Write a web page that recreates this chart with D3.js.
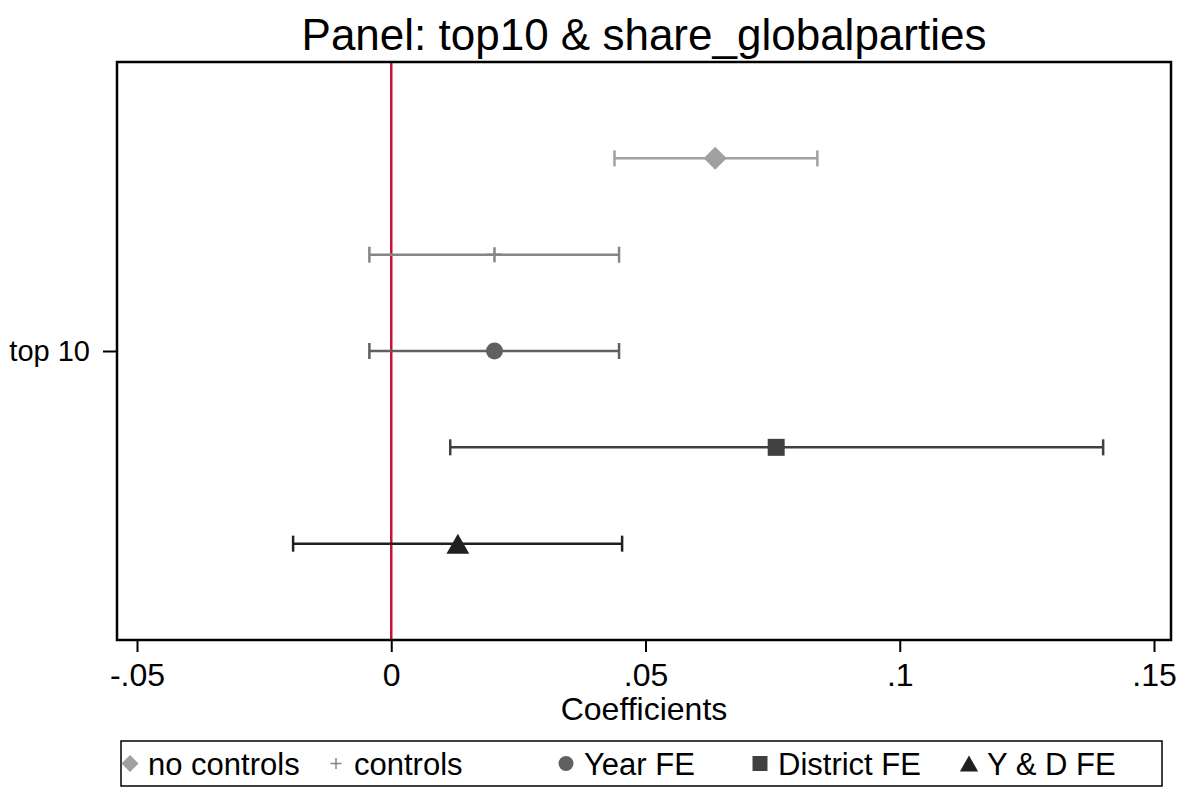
<!DOCTYPE html>
<html>
<head>
<meta charset="utf-8">
<script src="https://cdn.jsdelivr.net/npm/d3@7"></script>
<style>
  body { margin: 0; background: #fff; }
  text { font-family: "Liberation Sans", Arial, Helvetica, sans-serif; fill: #000; }
</style>
</head>
<body>
<div id="chart"></div>
<script>
var svgWidth = 1182;
var svgHeight = 799;

// data
var seriesNames = ["no controls", "controls", "Year FE", "District FE", "Y & D FE"];
var seriesOffset = [-0.4, -0.2, 0, 0.2, 0.4];
var coefs = [0.0637, 0.0203, 0.0203, 0.0757, 0.0131];
var ciLow = [0.0439, -0.0043, -0.0043, 0.0116, -0.0193];
var ciHigh = [0.0838, 0.0448, 0.0448, 0.1400, 0.0454];
var seriesColors = ["#a0a0a0", "#858585", "#606060", "#404040", "#202020"];
var seriesSymbols = ["diamond", "plus", "circle", "square", "triangle"];
var xTicks = [-0.05, 0, 0.05, 0.1, 0.15];
var xTickLabels = ["-.05", "0", ".05", ".1", ".15"];
var yCategory = "top 10";

var frame = { left: 117, right: 1171, top: 62, bottom: 640 };

var svg = d3.select("#chart")
  .append("svg")
  .attr("width", svgWidth)
  .attr("height", svgHeight);

var x = d3.scaleLinear()
  .domain([-0.05, 0.15])
  .range([137, 1154]);

var y = d3.scaleLinear()
  .domain([-0.6, 0.6])
  .range([frame.top, frame.bottom]);

var data = seriesNames.map(function(name, i) {
  return {
    name: name,
    offset: seriesOffset[i],
    coef: coefs[i],
    lo: ciLow[i],
    hi: ciHigh[i],
    color: seriesColors[i],
    symbol: seriesSymbols[i]
  };
});

// title
svg.append("text")
  .attr("x", (frame.left + frame.right) / 2)
  .attr("y", 50)
  .attr("text-anchor", "middle")
  .style("font-size", "44px")
  .text("Panel: top10 & share_globalparties");

// zero reference line
svg.append("line")
  .attr("x1", x(0)).attr("x2", x(0))
  .attr("y1", frame.top).attr("y2", frame.bottom)
  .attr("stroke", "#c8103c")
  .attr("stroke-width", 2.5);

// x axis
var bottomAxis = d3.axisBottom(x)
  .tickValues(xTicks)
  .tickFormat(function(d, i) { return xTickLabels[i]; })
  .tickSize(12)
  .tickPadding(11);

var xAxis = svg.append("g")
  .attr("transform", `translate(0, ${frame.bottom})`)
  .call(bottomAxis);
xAxis.select(".domain").remove();
xAxis.selectAll("line").attr("stroke", "#000").attr("stroke-width", 2);
xAxis.selectAll("text")
  .style("font-size", "32px")
  .style("font-family", "Liberation Sans, Arial, sans-serif");

// y axis, single category
var leftAxis = d3.axisLeft(y)
  .tickValues([0])
  .tickFormat(function() { return yCategory; })
  .tickSize(14)
  .tickPadding(13);

var yAxis = svg.append("g")
  .attr("transform", `translate(${frame.left}, 0)`)
  .call(leftAxis);
yAxis.select(".domain").remove();
yAxis.selectAll("line").attr("stroke", "#000").attr("stroke-width", 2);
yAxis.selectAll("text")
  .style("font-size", "29px")
  .style("font-family", "Liberation Sans, Arial, sans-serif");

// frame
svg.append("rect")
  .attr("x", frame.left)
  .attr("y", frame.top)
  .attr("width", frame.right - frame.left)
  .attr("height", frame.bottom - frame.top)
  .attr("fill", "none")
  .attr("stroke", "#000")
  .attr("stroke-width", 2.5);

// x title
svg.append("text")
  .attr("x", (frame.left + frame.right) / 2)
  .attr("y", 720)
  .attr("text-anchor", "middle")
  .style("font-size", "32px")
  .text("Coefficients");

function symbolPath(kind, size) {
  var h = size / 2;
  if (kind === "diamond") {
    return `M0,${-h}L${h},0L0,${h}L${-h},0Z`;
  }
  if (kind === "plus") {
    return `M${-h},0L${h},0M0,${-h}L0,${h}`;
  }
  if (kind === "circle") {
    return d3.symbol().type(d3.symbolCircle).size(Math.PI * h * h)();
  }
  if (kind === "square") {
    return `M${-h},${-h}L${h},${-h}L${h},${h}L${-h},${h}Z`;
  }
  // triangle
  var tw = size * 0.57;
  return `M0,${-h}L${tw},${h}L${-tw},${h}Z`;
}

var markerSize = { diamond: 23, plus: 15, circle: 17, square: 17, triangle: 20 };

// error bars and markers
var rows = svg.selectAll("g.row")
  .data(data)
  .enter()
  .append("g")
  .attr("class", "row")
  .attr("transform", d => `translate(0, ${y(d.offset)})`);

rows.append("line")
  .attr("x1", d => x(d.lo))
  .attr("x2", d => x(d.hi))
  .attr("stroke", d => d.color)
  .attr("stroke-width", 2.5);

rows.selectAll("line.cap")
  .data(d => [{ v: d.lo, color: d.color }, { v: d.hi, color: d.color }])
  .enter()
  .append("line")
  .attr("class", "cap")
  .attr("x1", c => x(c.v)).attr("x2", c => x(c.v))
  .attr("y1", -8).attr("y2", 8)
  .attr("stroke", c => c.color)
  .attr("stroke-width", 2.5);

rows.append("path")
  .attr("transform", d => `translate(${x(d.coef)}, 0)`)
  .attr("d", d => symbolPath(d.symbol, markerSize[d.symbol]))
  .attr("fill", d => d.symbol === "plus" ? "none" : d.color)
  .attr("stroke", d => d.symbol === "plus" ? d.color : "none")
  .attr("stroke-width", 2.5);

// legend
var legendBox = { left: 121, right: 1162, top: 741, bottom: 786 };
svg.append("rect")
  .attr("x", legendBox.left)
  .attr("y", legendBox.top)
  .attr("width", legendBox.right - legendBox.left)
  .attr("height", legendBox.bottom - legendBox.top)
  .attr("fill", "none")
  .attr("stroke", "#000")
  .attr("stroke-width", 1.5);

var legendX = d3.scaleOrdinal()
  .domain(seriesNames)
  .range([130, 336, 566, 760, 969]);

var legendSize = { diamond: 17, plus: 11, circle: 15, square: 15, triangle: 16 };
var legendY = (legendBox.top + legendBox.bottom) / 2;

var items = svg.selectAll("g.legend-item")
  .data(data)
  .enter()
  .append("g")
  .attr("class", "legend-item")
  .attr("transform", d => `translate(${legendX(d.name)}, ${legendY})`);

items.append("path")
  .attr("d", d => symbolPath(d.symbol, legendSize[d.symbol]))
  .attr("fill", d => d.symbol === "plus" ? "none" : d.color)
  .attr("stroke", d => d.symbol === "plus" ? d.color : "none")
  .attr("stroke-width", 1.5);

items.append("text")
  .attr("x", 18)
  .attr("y", 11)
  .style("font-size", "31px")
  .text(d => d.name);
</script>
</body>
</html>
